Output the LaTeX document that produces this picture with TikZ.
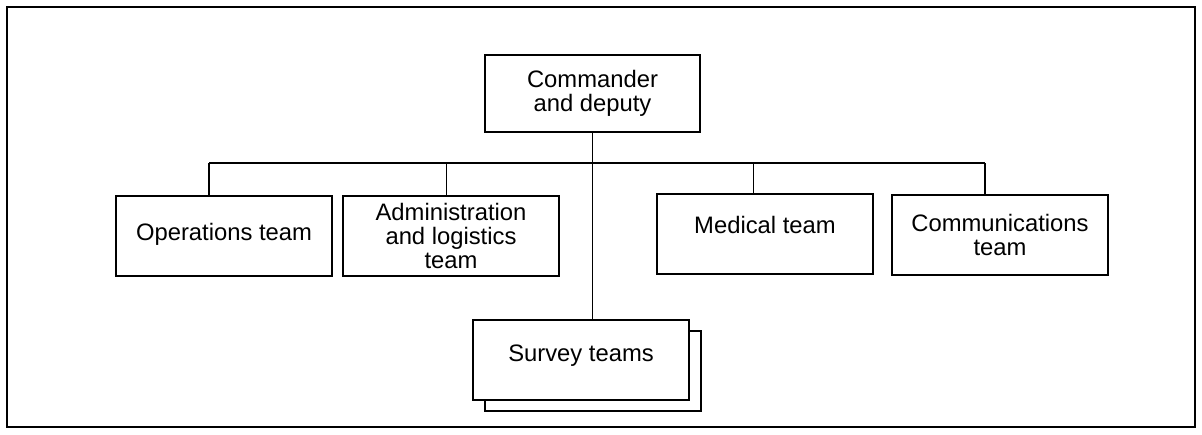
\documentclass[tikz,border=0pt]{standalone}
\usepackage{fontspec}
\setmainfont{Liberation Sans}
\begin{document}
\begin{tikzpicture}[x=0.5pt, y=-0.5pt, every node/.style={font=\fontsize{11.9}{12}\selectfont},
  unit/.style={draw, line width=0.6pt, fill=white, minimum width=108pt, minimum height=40pt, inner sep=0pt, align=center},
  link/.style={line width=0.6pt}]
\useasboundingbox (0,0) rectangle (1202,434);
\draw[line width=0.8pt] (7,7) rectangle (1195,427);
% command and teams
\node[unit, minimum width=107.5pt, minimum height=38.5pt] (cmd) at (592.5,93.5) {Commander\\and deputy};
\node[unit, text height=8.5pt, text depth=4.3pt] (ops) at (224,236) {Operations team};
\node[unit] (adm) at (451,236) {Administration\\and logistics\\team};
\node[unit, text height=8.5pt, text depth=9.3pt] (med) at (765,234) {Medical team};
\node[unit] (com) at (1000,235) {Communications\\team};
\node[unit] (srvb) at (593,371) {};
\node[unit, text height=8.5pt, text depth=6.9pt] (srv) at (581,360) {Survey teams};
% connectors
\foreach \n/\x in {ops/209,adm/446.5,med/753.5,com/985} {
  \coordinate (j-\n) at (\x,163);
  \draw[link] (j-\n) -- (j-\n |- \n.north);
}
\draw[link] (j-ops) -- (j-com);
\draw[link] (cmd.south) -- (cmd.south |- srv.north);
\end{tikzpicture}
\end{document}
